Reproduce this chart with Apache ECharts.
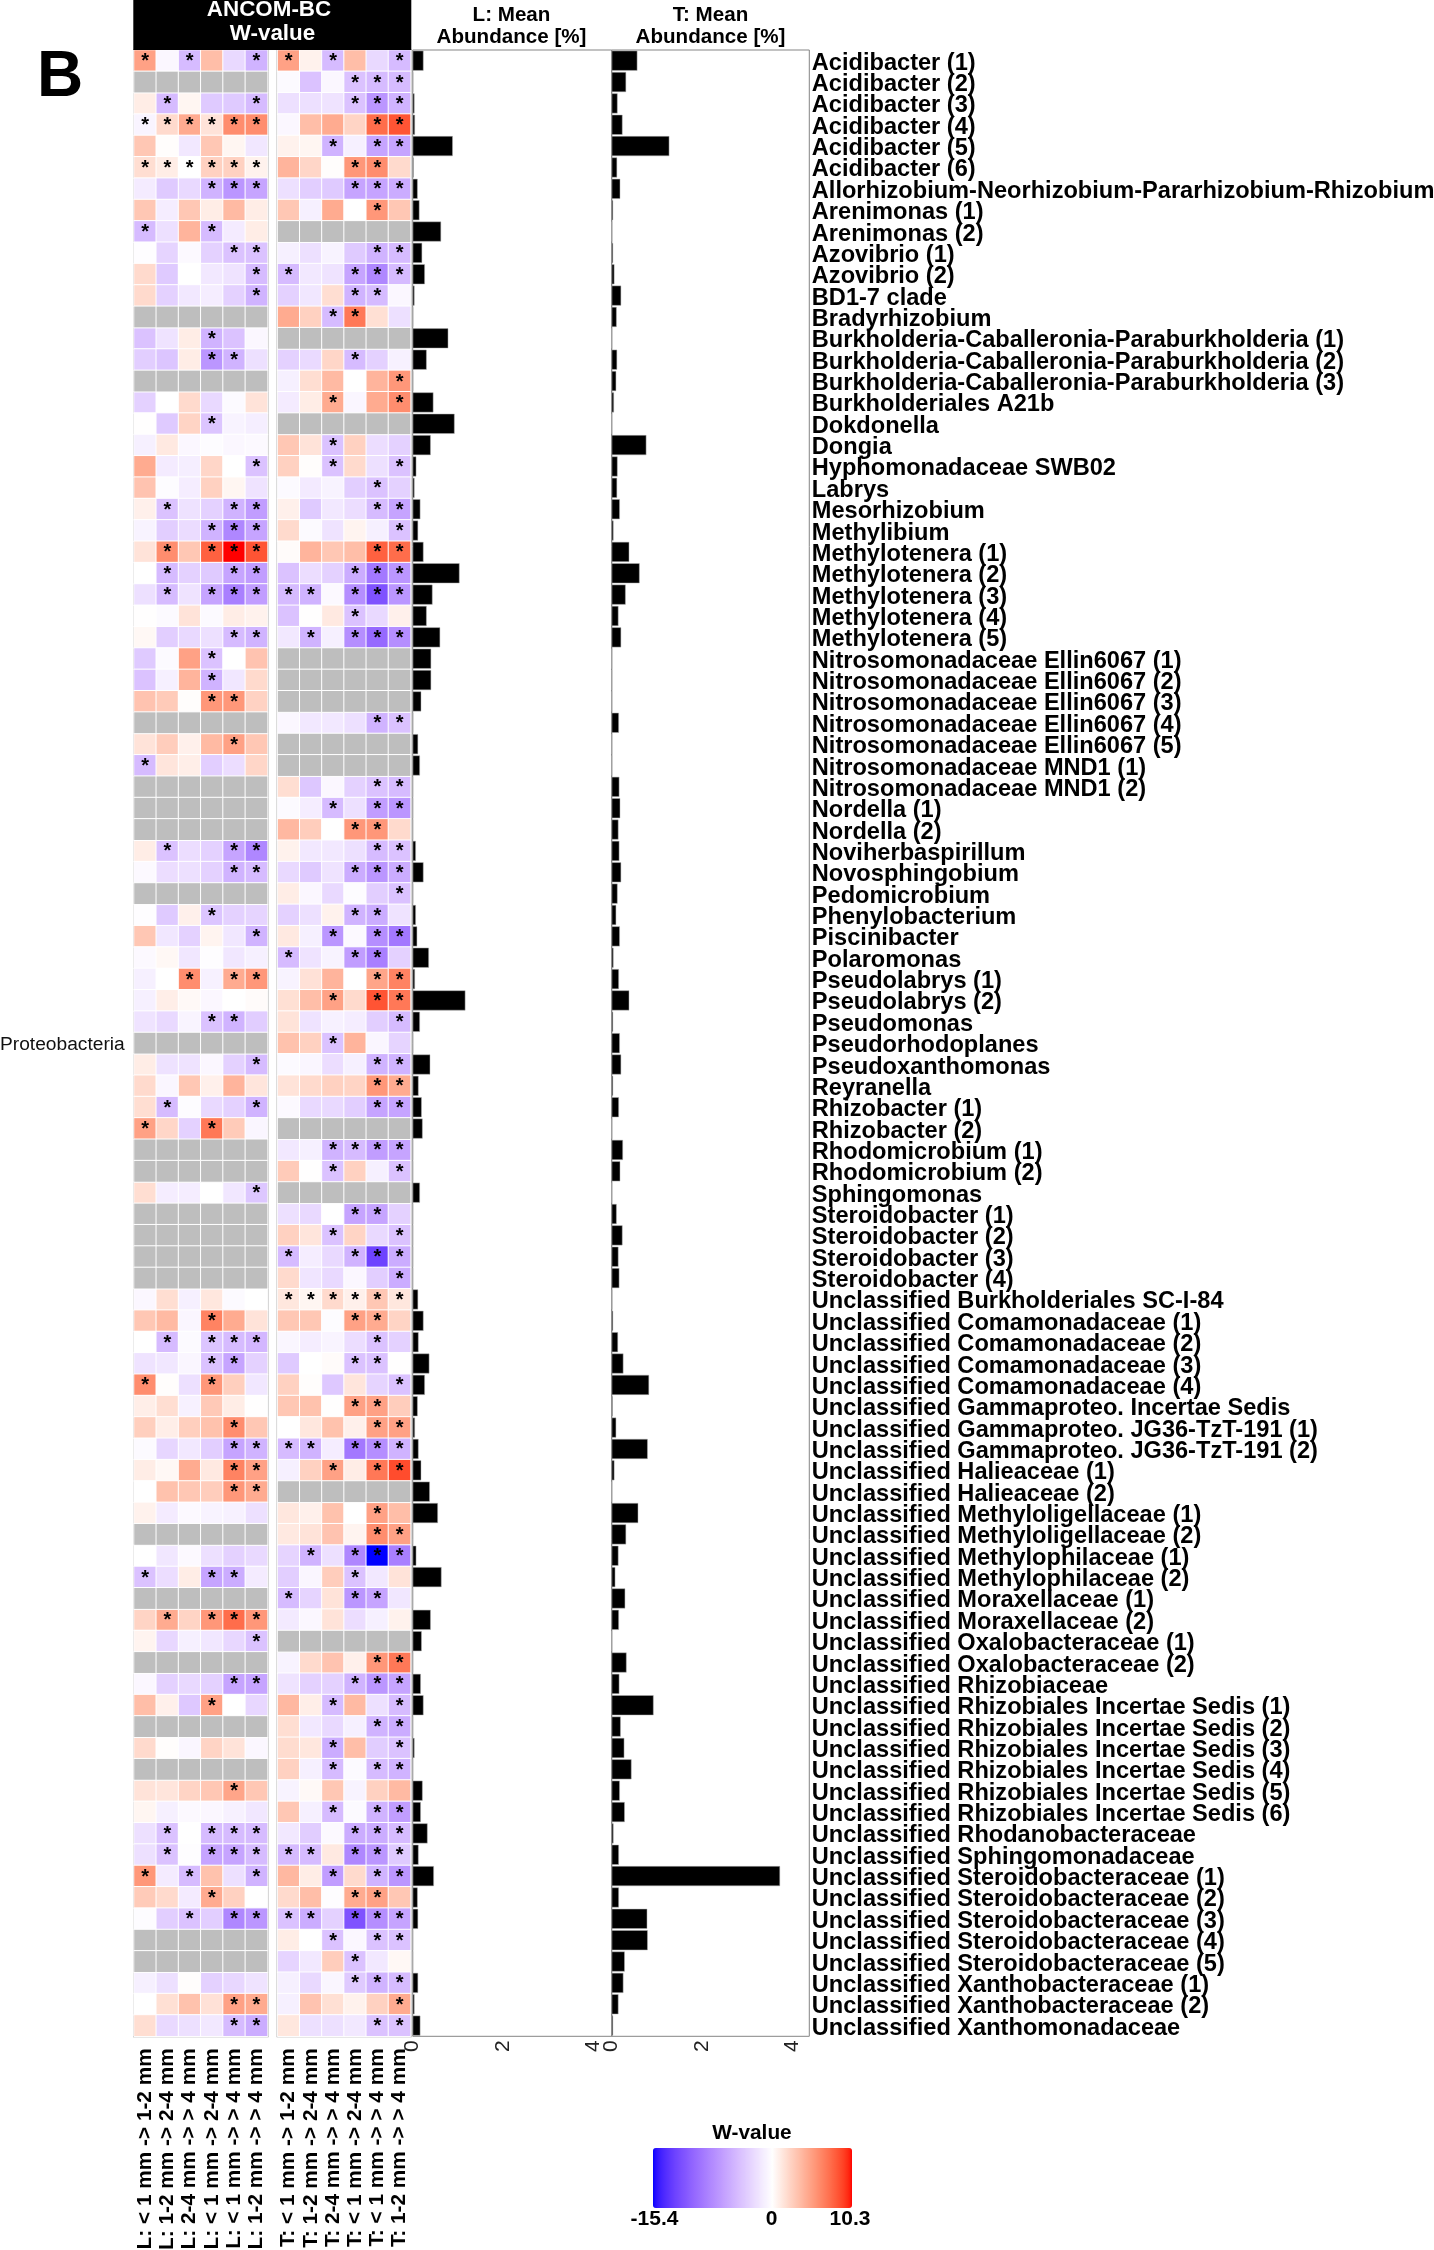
<!DOCTYPE html>
<html><head><meta charset="utf-8">
<style>html,body{margin:0;padding:0;background:#fff}#c{width:1434px;height:2250px}</style>
<script src="https://cdn.jsdelivr.net/npm/echarts@6/dist/echarts.min.js"></script>
</head><body><div id="c"></div>
<script>
const taxa = ["Acidibacter (1)","Acidibacter (2)","Acidibacter (3)","Acidibacter (4)","Acidibacter (5)","Acidibacter (6)","Allorhizobium-Neorhizobium-Pararhizobium-Rhizobium","Arenimonas (1)","Arenimonas (2)","Azovibrio (1)","Azovibrio (2)","BD1-7 clade","Bradyrhizobium","Burkholderia-Caballeronia-Paraburkholderia (1)","Burkholderia-Caballeronia-Paraburkholderia (2)","Burkholderia-Caballeronia-Paraburkholderia (3)","Burkholderiales A21b","Dokdonella","Dongia","Hyphomonadaceae SWB02","Labrys","Mesorhizobium","Methylibium","Methylotenera (1)","Methylotenera (2)","Methylotenera (3)","Methylotenera (4)","Methylotenera (5)","Nitrosomonadaceae Ellin6067 (1)","Nitrosomonadaceae Ellin6067 (2)","Nitrosomonadaceae Ellin6067 (3)","Nitrosomonadaceae Ellin6067 (4)","Nitrosomonadaceae Ellin6067 (5)","Nitrosomonadaceae MND1 (1)","Nitrosomonadaceae MND1 (2)","Nordella (1)","Nordella (2)","Noviherbaspirillum","Novosphingobium","Pedomicrobium","Phenylobacterium","Piscinibacter","Polaromonas","Pseudolabrys (1)","Pseudolabrys (2)","Pseudomonas","Pseudorhodoplanes","Pseudoxanthomonas","Reyranella","Rhizobacter (1)","Rhizobacter (2)","Rhodomicrobium (1)","Rhodomicrobium (2)","Sphingomonas","Steroidobacter (1)","Steroidobacter (2)","Steroidobacter (3)","Steroidobacter (4)","Unclassified Burkholderiales SC-I-84","Unclassified Comamonadaceae (1)","Unclassified Comamonadaceae (2)","Unclassified Comamonadaceae (3)","Unclassified Comamonadaceae (4)","Unclassified Gammaproteo. Incertae Sedis","Unclassified Gammaproteo. JG36-TzT-191 (1)","Unclassified Gammaproteo. JG36-TzT-191 (2)","Unclassified Halieaceae (1)","Unclassified Halieaceae (2)","Unclassified Methyloligellaceae (1)","Unclassified Methyloligellaceae (2)","Unclassified Methylophilaceae (1)","Unclassified Methylophilaceae (2)","Unclassified Moraxellaceae (1)","Unclassified Moraxellaceae (2)","Unclassified Oxalobacteraceae (1)","Unclassified Oxalobacteraceae (2)","Unclassified Rhizobiaceae","Unclassified Rhizobiales Incertae Sedis (1)","Unclassified Rhizobiales Incertae Sedis (2)","Unclassified Rhizobiales Incertae Sedis (3)","Unclassified Rhizobiales Incertae Sedis (4)","Unclassified Rhizobiales Incertae Sedis (5)","Unclassified Rhizobiales Incertae Sedis (6)","Unclassified Rhodanobacteraceae","Unclassified Sphingomonadaceae","Unclassified Steroidobacteraceae (1)","Unclassified Steroidobacteraceae (2)","Unclassified Steroidobacteraceae (3)","Unclassified Steroidobacteraceae (4)","Unclassified Steroidobacteraceae (5)","Unclassified Xanthobacteraceae (1)","Unclassified Xanthobacteraceae (2)","Unclassified Xanthomonadaceae"];
const contrastsL = ["L: < 1 mm -> 1-2 mm","L: 1-2 mm -> 2-4 mm","L: 2-4 mm -> > 4 mm","L: < 1 mm -> 2-4 mm","L: < 1 mm -> > 4 mm","L: 1-2 mm -> > 4 mm"];
const contrastsT = ["T: < 1 mm -> 1-2 mm","T: 1-2 mm -> 2-4 mm","T: 2-4 mm -> > 4 mm","T: < 1 mm -> 2-4 mm","T: < 1 mm -> > 4 mm","T: 1-2 mm -> > 4 mm"];

// W-values per taxon; null = taxon absent from that compartment (grey row)
const wL = [
[5,-.5,-4.5,3.5,-2.5,-5],null,[1,-4.5,.5,-3.5,-3.5,-4.5],[-.7,2,4.5,1.5,6,6],[3,.1,-1.5,3,.5,-1.6],[1.8,1,0,2.5,2.5,.7],[-1.3,-3.5,-2.5,-5,-7,-6],[3,-1.2,3,1,3.7,1],[-4.5,-2,4,-4.5,-1.3,1],[-.1,-2.8,-.4,-3,-4,-4],
[2,-3.5,0,-1.5,-1.8,-4.5],[2,-3,-1.5,-1.2,-3,-5],null,[-4,-1.8,1,-5,-4,-.5],[-3.2,-3.8,1,-7,-5,-2],null,[-3,0,2,-2.5,-.3,1.5],[.05,-3.5,2.3,-3.8,-.8,-1.1],[-1,1.2,-.5,-.2,-.5,-.4],[4.5,-1.3,-1.1,2.2,0,-4],
[3.2,-.2,-1.2,2.5,.5,-1.8],[.8,-4,-1.9,-3,-5,-6.5],[-.8,-3.2,-2.3,-5,-8,-6],[1.5,6,3,8,10.3,8.5],[0,-4.5,-3,-3.5,-6,-6.5],[-2,-4.5,-1.8,-6,-8.5,-6.5],[.05,-.3,1.5,-.3,1,.7],[.4,-3.2,-2.5,-2,-4.5,-5],[-3.5,-.3,5,-4,0,3.2],[-4,-1,4,-5,-1.6,2],
[3.2,2.8,.1,5.5,5.5,2.4],null,[1.5,2.7,.8,3.7,5,3],[-4.5,1.4,.9,-3.2,-2.2,2.2],null,null,null,[1,-4,-2.2,-3,-6,-8],[-.4,-2.2,-2,-3,-5,-4.5],null,
[-.1,-3.5,.8,-3.8,-3,-2.8],[3,-1.6,-3,.6,-1.6,-5],[-.4,.4,-1.6,-.1,-1.6,-1],[-1,0,6,-.9,4.5,5.5],[-1,.9,.3,-.5,0,.2],[-1.8,-2.5,-.7,-4,-5,-3.3],null,[1,-1.9,-1.8,-.5,-3,-4.5],[2,-.6,3,.8,4,1.4],[1.8,-4.5,-.2,-2.5,-3,-5],
[5,2.2,-3,7,2.8,-.6],null,null,[1.8,-1.2,-1.2,0,-1.6,-3.7],null,null,null,null,[-.5,1.8,-1,1.3,-.3,0],[3,3.7,-.6,6.5,4.5,1.5],
[0,-4.5,-.3,-3.8,-4.5,-4.8],[-1.8,-1.6,-.6,-4,-6,-3],[6,.1,-2,5.5,2.6,-1.6],[.9,1.8,-.9,2.9,1,.05],[2.6,.9,2.6,3.3,6,3],[-.3,-2.7,-1.5,-3.2,-6,-5],[1,.4,4.5,1.2,6.5,5],[0,3.3,3,2.7,5.5,4.5],[.7,-1.3,-.4,-.8,-.9,-2],null,
[0,-1.6,-.4,-2,-3,-2.5],[-4,-2.2,1,-6,-5.5,-1.3],null,[2.3,4.5,2.3,5.5,7.5,5.5],[.6,-2.6,-1,-1.6,-2.6,-4],null,[-.5,-3,-2.5,-3,-6,-6],[3.5,.8,-3.6,5,0,-2.6],null,[2,.1,-.6,2.3,1.5,-.5],
null,[1.5,1.4,2.3,3,4.8,3],[.5,-1,-.4,-.5,-.9,-1.6],[-2,-4,0,-4.5,-4.5,-4.5],[-2,-4,-.1,-6,-6,-4.5],[5.5,-1.3,-4.5,3.3,-2,-5],[2.8,2,-1.3,4.5,2.5,0],[-.2,-3.2,-4,-3.2,-8,-7],null,null,
[-1,-2,.1,-3,-2.6,-1.8],[0,1.7,3.3,1.6,5,4.5],[1.8,-2.5,-2,-1.5,-4.5,-5.5]];
const wT = [
[5,.7,-4.5,3.5,-2.5,-4.5],[-.3,-4,-.5,-4,-4.5,-4.5],[-2,-2,-1.8,-4,-7,-5],[-.5,3.5,4.5,2.3,7.5,8.5],[.7,.5,-5,-1,-6,-6],[4,2.2,.1,5.5,6,2],[-2,-3.2,-3.5,-6,-6,-5.5],[3,-1,4.5,0,5.5,3],null,[-1,-2,-.8,-3.5,-5,-4.5],
[-4.5,-1.5,-1.8,-6,-8,-4.5],[-3,-1.6,1.8,-5,-4.5,-.5],[4.5,2.5,-4.5,7,1.7,-2],null,[-3,-2.4,2.2,-4.5,-3,-.9],[-1,1.8,3.7,0,4,5.5],[-1.3,1,4.5,-.6,4.5,6],null,[3,1.5,-4,2.5,-2.2,-3],[2.5,.1,-4,2,-2,-4],
[-.3,-1.4,-.8,-3.2,-4,-3],[.8,-3.5,-1.5,-2.2,-4.5,-6],[2,-.3,-1.8,.6,-1,-4],[.2,4,3,3.5,8,7.5],[-4,-2.2,-3,-5.5,-9,-7],[-4.5,-5,-.4,-7.5,-11.5,-7],[-4,.05,1.2,-4,-2.5,.8],[-1.5,-5,-1,-7.5,-10,-7.5],null,null,
null,[-.5,-1.5,-1.5,-2,-5,-4],null,null,[1.8,-3.7,-.5,-3,-4,-4.5],[-.3,-1.2,-4.5,-2,-6.5,-7],[3.8,2.7,0,5.5,5.5,2],[.7,-1.5,-1.5,-2,-4.5,-4],[-2.5,-3.5,-1.8,-5.5,-7,-5.5],[1,-.5,-2.5,-.2,-3.2,-4],
[-3,-2,.7,-5,-5.5,-1.8],[1.2,-1,-7,-.4,-7.5,-9],[-4.5,-1.8,-.8,-6.5,-8.5,-3],[-.8,1.6,4,0,4.8,6.5],[1.7,3.5,5,2,8.5,7],[1.5,-1.8,-.9,-1.2,-3.2,-4.5],[3.3,2.5,-4,4,-.6,-2.8],[-.3,-.6,-2.2,-1,-5,-5],[1.5,2,2.5,2.3,5.5,4.5],[-.4,-2.5,-2.5,-3.2,-6,-6],
null,[-1.5,-1,-5,-4.5,-6.5,-6],[2.8,.05,-4,2.5,-1,-4],null,[-2,-2.5,0,-6,-6,-3],[2.5,1.4,-4,2.3,-2.5,-4],[-4.5,-1.2,-2.5,-5,-12.5,-5.5],[2,-1.7,-2.5,-.5,-3.2,-5.5],[1.3,.5,2,.8,3,1.3],[3,3,-.2,5,4.5,2.3],
[-.6,-1.2,-.7,-2.2,-4,-3],[-3.5,0,.2,-4,-4,.05],[2.5,.1,-3.6,1.4,-2.8,-4],[3,3.3,.05,5,5,2.7],[0,1.3,3.3,.8,5,5],[-4.5,-5,-1.2,-9,-7.5,-5],[-1,2.5,5,1,7,8.8],null,[1.3,.8,3.3,0,5,3.5],[1.2,1.5,3.2,.6,6,5],
[-2.8,-5,-2,-8,-15.4,-8.5],[-3.2,-.6,2.7,-4,-1.5,1.5],[-4.5,-2.8,1.5,-7,-6,-1.6],[-1.4,-.5,1.5,-2.2,-1,.7],null,[-.8,2,3.2,.8,5.5,7],[-1.8,-3,-3,-5,-7,-6],[3.8,.9,-4.5,3.7,-2,-4.5],[1.8,-1.5,-2.5,-1,-5,-5.5],[1.9,1.3,-5.5,3.5,-3.3,-4],
[2.5,-1,-4.5,-.3,-4.5,-5],[-.8,.3,3,-.8,2.5,3.7],[3,-1,-4.5,-.3,-5,-6.5],[-1.5,-3.3,-.4,-5.5,-5.5,-4.5],[-4.5,-4.5,1.2,-8,-7,-3.5],[3.8,1,-6.5,2,-5,-7],[2,3.5,-.1,4.5,5,3],[-4,-5.5,-3,-11.5,-7.5,-6],[1,0,-4,-.5,-4,-4],[-2.8,-1.5,2.7,-4,-1.5,.4],
[-1,-2.5,-.6,-3.5,-5,-4.5],[-1,3.2,1.7,.7,2.5,4.5],[1.3,-2,-2,-1.5,-4,-4]];

// Significance stars per taxon and contrast (1 = star)
const starsL = ["101001","000000","010001","111111","000000","111111","000111","000000","100100","000011","000001","000001","000000","000100","000110","000000","000000","000100","000000","000001","000000","010011","000111","010111","010011","010111","000000","000011","000100","000100","000110","000000","000010","100000","000000","000000","000000","010011","000011","000000","000100","000001","000000","001011","000000","000110","000000","000001","000000","010001","100100","000000","000000","000001","000000","000000","000000","000000","000000","000100","010111","000110","100100","000000","000010","000011","000011","000011","000000","000000","000000","100110","000000","010111","000001","000000","000011","000100","000000","000000","000000","000010","000000","010111","010111","101001","000100","001011","000000","000000","000000","000011","000011"];
const starsT = ["101001","000111","000111","000011","001011","000110","000111","000010","000000","000011","100111","000110","001100","000000","000100","000001","001001","000000","001000","001001","000010","000011","000001","000011","000111","110111","000100","010111","000000","000000","000000","000011","000000","000000","000011","001011","000110","000011","000111","000001","000110","001011","100110","000011","001011","000001","001000","000011","000011","000011","000000","001111","001001","000000","000110","001001","100111","000001","111111","000110","000010","000110","000001","000110","000011","110111","001011","000000","000010","000011","010111","000100","100110","000000","000000","000011","000111","001001","000011","001001","001011","000000","001011","000111","110111","001011","000110","110111","001011","000100","000111","000001","000011"];

// Mean abundance [%]
const abundL = [.24,.01,.04,.05,.89,.02,.11,.15,.63,.21,.27,.04,.01,.79,.31,.01,.46,.93,.40,.08,.04,.17,.12,.24,1.04,.44,.31,.61,.41,.41,.19,.005,.12,.16,0,0,0,.07,.24,.005,.07,.10,.36,.05,1.17,.16,.005,.39,.13,.20,.22,0,0,.16,0,0,0,0,.12,.24,.13,.37,.27,.11,.05,.13,.19,.38,.56,0,.08,.64,0,.40,.20,0,.18,.24,0,.04,0,.22,.18,.33,.13,.47,.11,.12,0,0,.12,.04,.17];
const abundT = [.57,.32,.13,.24,1.28,.12,.19,.03,.005,.03,.06,.21,.11,0,.12,.10,.05,0,.77,.13,.12,.18,.04,.39,.62,.31,.15,.21,0,0,0,.16,0,0,.17,.19,.15,.17,.21,.13,.10,.18,.04,.16,.39,.03,.18,.21,.03,.16,0,.25,.19,0,.11,.24,.15,.17,.01,.03,.14,.26,.83,.02,.10,.80,.06,0,.59,.32,.15,.08,.30,.16,0,.33,.17,.93,.20,.28,.44,.18,.29,.04,.16,3.74,.16,.79,.80,.29,.26,.15,.03];

const wMin = -15.4, wMax = 10.3;
const legendTicks = ["-15.4","0","10.3"];

(function(){
/* ---- colour ramp: blue-white-red interpolated in CIELAB ---- */
function toLab(c){
  const l=c.map(v=>{v/=255;return v>.04045?Math.pow((v+.055)/1.055,2.4):v/12.92;});
  const X=(.4124*l[0]+.3576*l[1]+.1805*l[2])/.95047,Y=.2126*l[0]+.7152*l[1]+.0722*l[2],Z=(.0193*l[0]+.1192*l[1]+.9505*l[2])/1.08883;
  const f=t=>t>.008856?Math.cbrt(t):7.787*t+16/116;
  return [116*f(Y)-16,500*(f(X)-f(Y)),200*(f(Y)-f(Z))];
}
function fromLab(L){
  const fy=(L[0]+16)/116,fx=fy+L[1]/500,fz=fy-L[2]/200;
  const g=t=>t*t*t>.008856?t*t*t:(t-16/116)/7.787;
  const X=g(fx)*.95047,Y=g(fy),Z=g(fz)*1.08883;
  const r=[3.2406*X-1.5372*Y-.4986*Z,-.9689*X+1.8758*Y+.0415*Z,.0557*X-.204*Y+1.057*Z];
  return 'rgb('+r.map(v=>{v=Math.max(0,Math.min(1,v));v=v>.0031308?1.055*Math.pow(v,1/2.4)-.055:12.92*v;return Math.round(v*255);}).join(',')+')';
}
const labB=toLab([0,0,255]),labW=toLab([255,255,255]),labR=toLab([255,0,0]);
const ramp=[];
for(let i=0;i<=257;i++){
  const v=wMin+i*.1;
  const t=v<0?v/wMin:v/wMax,end=v<0?labB:labR;
  ramp.push(fromLab(labW.map((w,k)=>w+(end[k]-w)*t)));
}

/* ---- series data ---- */
function cells(w,stars){
  const d=[];
  w.forEach((row,y)=>{ if(row) row.forEach((v,x)=>d.push([x,y,v,stars[y][x]==='1'?1:0])); });
  return d;
}
function naCells(w){
  const d=[];
  w.forEach((row,y)=>{ if(!row) for(let x=0;x<6;x++) d.push([x,y,0]); });
  return d;
}
const SANS='"Liberation Sans",Arial,Helvetica,sans-serif';
const gTop=50, gBottom=2250-2036.3;
const grids=[
 {left:134,width:133.6,top:gTop,bottom:gBottom,show:true,borderColor:'#9a9a9a',borderWidth:2,backgroundColor:'#fff'},
 {left:277.6,width:133,top:gTop,bottom:gBottom,show:true,borderColor:'#9a9a9a',borderWidth:2,backgroundColor:'#fff'},
 {left:412.7,width:199,top:gTop,bottom:gBottom,show:true,borderColor:'#858585',borderWidth:1},
 {left:611.7,width:197.6,top:gTop,bottom:gBottom,show:true,borderColor:'#858585',borderWidth:1}
].map(g=>Object.assign(g,{outerBoundsMode:'none',containLabel:false}));

const heatX=(i,cats)=>({type:'category',gridIndex:i,data:cats,position:'bottom',
  axisLine:{show:false},axisTick:{show:false},splitLine:{show:false},splitArea:{show:false},
  axisLabel:{interval:0,rotate:90,margin:12,color:'#000',fontFamily:SANS,fontWeight:'bold',fontSize:20.8,hideOverlap:false}});
const barX=(i,max)=>({type:'value',gridIndex:i,min:0,max,interval:2,position:'bottom',
  axisLine:{show:false},axisTick:{show:false},splitLine:{show:false},
  axisLabel:{rotate:90,margin:4,color:'#222',fontFamily:SANS,fontSize:21,showMaxLabel:false}});
const yAx=(i,extra)=>Object.assign({type:'category',gridIndex:i,data:taxa,inverse:true,
  axisLine:{show:false},axisTick:{show:false},splitLine:{show:false},axisLabel:{show:false}},extra||{});

const heat=(i,w,name)=>({name,type:'heatmap',xAxisIndex:i,yAxisIndex:i,data:cells(w,i===0?starsL:starsT),
  itemStyle:{borderColor:'#fff',borderWidth:1},emphasis:{disabled:true},progressive:0,
  label:{show:true,formatter:p=>p.value[3]?'*':'',color:'#000',fontFamily:SANS,fontWeight:'bold',fontSize:20,offset:[0,1]},
  encode:{x:0,y:1}});
const na=(i,w)=>({type:'heatmap',xAxisIndex:i,yAxisIndex:i,data:naCells(w),
  itemStyle:{color:'#bebebe',borderColor:'#fff',borderWidth:1},emphasis:{disabled:true},progressive:0,label:{show:false}});
const bar=(i,v)=>({type:'bar',xAxisIndex:i,yAxisIndex:i,data:v,barWidth:20,
  itemStyle:{color:'#000',borderColor:'#b0b0b0',borderWidth:.5},emphasis:{disabled:true},z:5,animation:false});

const txt=(x,y,text,o)=>({type:'text',x,y,silent:true,z:20,style:Object.assign({text,fill:'#000',font:'bold 21px '+SANS,textAlign:'center',textVerticalAlign:'middle'},o||{})});

const chart=echarts.init(document.getElementById('c'),null,{renderer:'canvas',width:1434,height:2250});
chart.setOption({
  animation:false,backgroundColor:'#fff',tooltip:{show:false},
  grid:grids,
  xAxis:[heatX(0,contrastsL),heatX(1,contrastsT),barX(2,4.42),barX(3,4.39)],
  yAxis:[yAx(0),yAx(1),yAx(2),yAx(3,{position:'right',axisLabel:{show:true,interval:0,margin:2.5,verticalAlign:'top',lineHeight:5,color:'#000',fontFamily:SANS,fontWeight:'bold',fontSize:23.6,align:'left'}})],
  visualMap:{type:'continuous',seriesIndex:[0,1],dimension:2,min:wMin,max:wMax,orient:'horizontal',left:653,top:2148,
    itemWidth:60,itemHeight:199,padding:0,text:null,calculable:false,realtime:false,hoverLink:false,silent:true,
    showLabel:false,textStyle:{color:'rgba(0,0,0,0)'},inRange:{color:ramp}},
  series:[heat(0,wL,'L'),heat(1,wT,'T'),na(0,wL),na(1,wT),bar(2,abundL),bar(3,abundT)],
  graphic:{elements:[
    {type:'rect',silent:true,z:10,shape:{x:133.3,y:0,width:278,height:50},style:{fill:'#000'}},
    txt(269,10,'ANCOM-BC',{fill:'#fff',font:'bold 22.4px '+SANS}),
    txt(272.5,34,'W-value',{fill:'#fff',font:'bold 22.4px '+SANS}),
    txt(511.5,15,'L: Mean',{font:'bold 20.6px '+SANS}),
    txt(511.5,37.5,'Abundance [%]',{font:'bold 20.6px '+SANS}),
    txt(710.5,15,'T: Mean',{font:'bold 20.6px '+SANS}),
    txt(710.5,37.5,'Abundance [%]',{font:'bold 20.6px '+SANS}),
    txt(60,78.5,'B',{font:'bold 64px '+SANS}),
    txt(0,1045,'Proteobacteria',{font:'19.2px '+SANS,textAlign:'left',fill:'#111'}),
    txt(752,2133,'W-value',{font:'bold 20.8px '+SANS}),
    txt(654.5,2219,legendTicks[0]),
    txt(771.7,2219,legendTicks[1]),
    txt(850,2219,legendTicks[2])
  ]}
});
})();
</script></body></html>
